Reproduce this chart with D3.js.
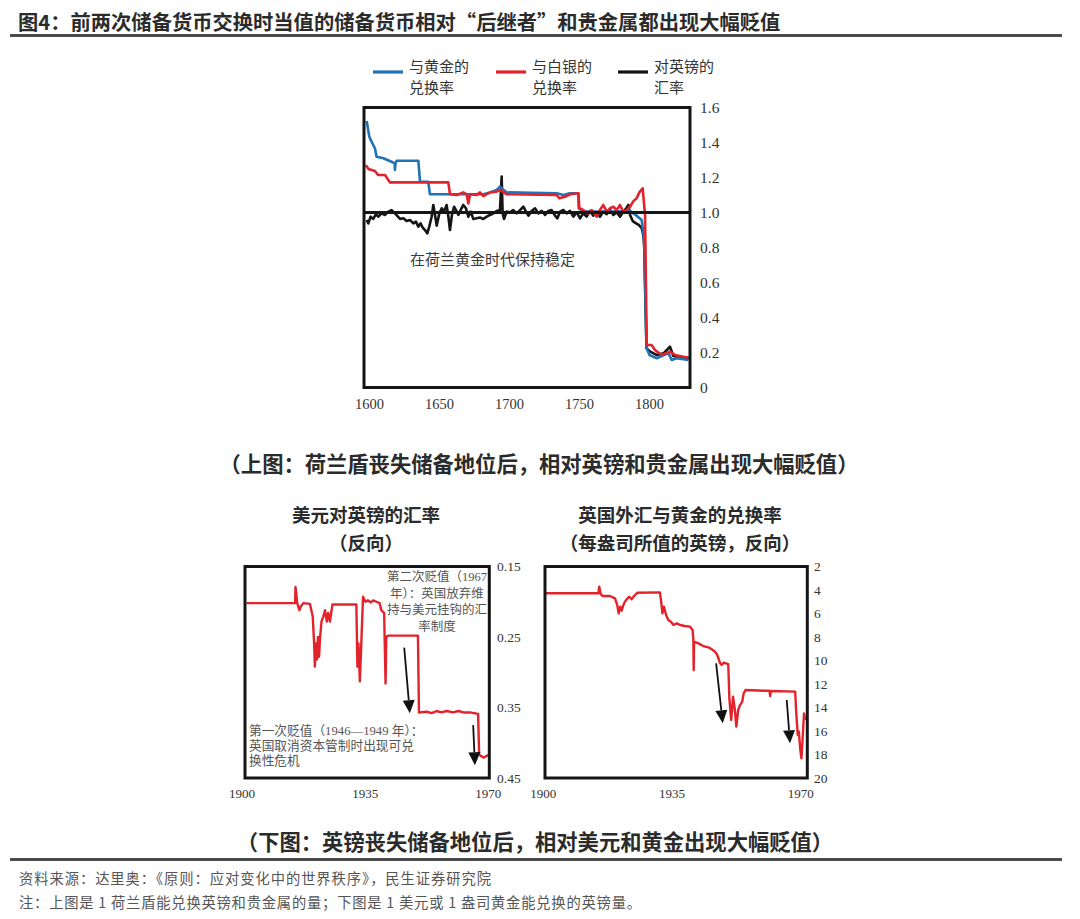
<!DOCTYPE html>
<html><head><meta charset="utf-8">
<script src="https://cdn.jsdelivr.net/npm/d3@7/dist/d3.min.js"></script>
<style>
body{margin:0;background:#fff;}
svg{display:block;}
.cjk{font-family:"Noto Sans CJK SC","Noto Sans",sans-serif;}
.ser{font-family:"Liberation Serif","Noto Sans CJK SC",serif;}
</style></head>
<body>
<svg id="c" width="1080" height="919"></svg>
<script>
// ---------- DATA ----------
const topLegend = [["与黄金的","兑换率"],["与白银的","兑换率"],["对英镑的","汇率"]];
const topYTicks = [0,0.2,0.4,0.6,0.8,1.0,1.2,1.4,1.6];
const topXTicks = [1600,1650,1700,1750,1800];
// guilder -> gold exchange rate
const guilderGold = [[1598.0,1.523],[1599.9,1.433],[1601.5,1.405],[1603.9,1.367],[1605.1,1.319],[1609.9,1.310],[1615.8,1.290],[1618.0,1.281],[1618.2,1.243],[1618.6,1.281],[1619.4,1.296],[1634.9,1.296],[1636.1,1.176],[1642.0,1.176],[1643.2,1.104],[1681.3,1.104],[1686.1,1.115],[1690.8,1.129],[1693.2,1.148],[1695.6,1.129],[1698.0,1.115],[1733.7,1.110],[1738.5,1.100],[1743.2,1.110],[1749.2,1.110],[1749.4,1.024],[1752.7,1.005],[1771.8,1.005],[1786.1,1.009],[1788.5,0.995],[1790.8,0.982],[1794.4,0.957],[1796.1,0.852],[1797.9,0.224],[1800.0,0.186],[1805.1,0.167],[1810.3,0.186],[1813.6,0.195],[1815.8,0.157],[1819.4,0.167],[1827.7,0.157]];
// guilder -> silver exchange rate
const guilderSilver = [[1597.5,1.271],[1599.2,1.249],[1603.9,1.237],[1606.3,1.214],[1611.1,1.214],[1614.6,1.172],[1656.3,1.172],[1657.5,1.104],[1662.3,1.100],[1667.0,1.115],[1669.4,1.104],[1670.6,1.052],[1671.8,1.104],[1676.5,1.100],[1678.9,1.115],[1681.3,1.094],[1686.1,1.115],[1690.8,1.119],[1693.2,1.129],[1698.0,1.104],[1733.7,1.100],[1735.6,1.081],[1739.6,1.090],[1743.2,1.104],[1749.2,1.110],[1749.9,1.024],[1752.7,1.014],[1756.3,0.995],[1758.7,1.014],[1762.3,0.976],[1764.6,1.014],[1767.0,1.043],[1769.4,1.005],[1771.8,1.024],[1774.2,1.033],[1776.5,1.014],[1778.9,1.043],[1781.3,1.001],[1783.7,1.014],[1786.1,1.033],[1788.5,1.065],[1790.8,1.081],[1792.7,1.115],[1795.1,1.138],[1796.8,0.986],[1798.0,0.243],[1801.5,0.243],[1803.9,0.214],[1808.7,0.186],[1814.6,0.205],[1818.2,0.186],[1824.2,0.176],[1827.7,0.171]];
// guilder -> pound exchange rate
const guilderPound = [[1598.0,0.957],[1599.2,0.938],[1600.8,0.976],[1602.7,0.963],[1604.6,0.990],[1606.3,0.976],[1608.7,0.995],[1611.1,0.986],[1613.5,1.005],[1615.8,1.014],[1618.2,0.995],[1621.8,0.963],[1624.2,0.967],[1626.5,0.951],[1628.9,0.957],[1631.3,0.938],[1633.2,0.948],[1634.9,0.919],[1636.5,0.938],[1638.0,0.914],[1639.6,0.900],[1641.3,0.881],[1642.7,0.919],[1644.4,0.976],[1645.6,1.043],[1646.8,0.986],[1648.0,0.925],[1649.9,0.995],[1651.6,1.024],[1653.2,1.005],[1655.1,1.043],[1656.5,0.967],[1657.5,0.900],[1658.9,0.986],[1660.4,1.033],[1661.8,1.014],[1663.5,0.986],[1665.1,1.014],[1667.0,1.043],[1668.9,1.024],[1670.6,0.976],[1672.3,1.005],[1674.2,0.963],[1676.5,0.967],[1678.9,0.971],[1681.3,0.963],[1683.7,0.976],[1686.1,0.986],[1688.5,0.995],[1690.8,1.009],[1693.2,1.014],[1694.4,1.205],[1695.1,0.995],[1696.1,0.963],[1698.0,1.005],[1700.4,1.001],[1702.7,1.014],[1705.1,0.995],[1707.5,1.014],[1709.9,1.033],[1711.8,1.005],[1713.5,0.982],[1715.8,1.009],[1718.2,1.024],[1720.6,0.995],[1723.0,1.009],[1725.4,0.986],[1727.7,1.009],[1730.1,1.014],[1732.5,0.982],[1734.2,0.967],[1736.1,1.005],[1738.5,1.014],[1740.8,0.995],[1743.2,1.009],[1745.6,0.976],[1748.0,1.001],[1750.4,0.967],[1752.7,0.995],[1755.1,0.976],[1757.5,1.009],[1759.9,0.982],[1762.3,1.001],[1764.6,0.976],[1767.0,1.005],[1769.4,0.990],[1771.8,1.014],[1774.2,0.986],[1776.5,1.001],[1778.9,0.976],[1781.3,1.005],[1783.7,1.027],[1784.9,1.043],[1786.1,0.986],[1788.0,0.951],[1790.4,0.938],[1792.3,0.929],[1794.4,0.910],[1795.6,0.871],[1796.2,0.805],[1797.8,0.224],[1800.5,0.205],[1805.0,0.186],[1810.0,0.195],[1814.6,0.233],[1817.0,0.180],[1822.0,0.172],[1828.0,0.168]];

const usdYTicks = [0.15,0.25,0.35,0.45];
const botXTicks = [1900,1935,1970];
// pounds per dollar (inverted axis)
const usdGbp = [[1901.3,0.202],[1915.1,0.202],[1915.2,0.179],[1915.7,0.202],[1916.3,0.212],[1916.7,0.207],[1917.4,0.202],[1919.3,0.203],[1920.1,0.221],[1920.5,0.259],[1920.7,0.292],[1921.0,0.259],[1921.3,0.282],[1921.6,0.250],[1921.9,0.278],[1922.2,0.250],[1922.6,0.228],[1923.1,0.221],[1923.6,0.212],[1924.1,0.228],[1924.5,0.216],[1925.0,0.228],[1925.7,0.204],[1932.5,0.204],[1932.8,0.292],[1933.1,0.259],[1933.5,0.313],[1933.8,0.273],[1934.4,0.193],[1935.1,0.200],[1935.8,0.198],[1936.6,0.201],[1937.3,0.198],[1938.2,0.200],[1939.1,0.202],[1939.6,0.212],[1940.4,0.216],[1940.8,0.316],[1941.0,0.250],[1941.5,0.248],[1950.0,0.248],[1950.3,0.357],[1952.5,0.356],[1953.9,0.358],[1955.3,0.355],[1956.7,0.357],[1958.1,0.355],[1960.0,0.357],[1961.5,0.355],[1962.9,0.357],[1964.8,0.357],[1967.1,0.359],[1967.4,0.417],[1968.6,0.421],[1970.2,0.417]];

const goldYTicks = [2,4,6,8,10,12,14,16,18,20];
// pounds per ounce of gold (inverted axis)
const gbpGold = [[1900.7,4.28],[1915.0,4.28],[1915.2,3.72],[1915.6,4.33],[1916.1,4.51],[1918.1,4.51],[1919.5,4.71],[1920.1,5.27],[1920.5,5.99],[1920.9,5.42],[1921.3,5.76],[1921.8,5.27],[1922.2,4.99],[1922.9,4.71],[1923.4,4.57],[1924.0,4.79],[1924.7,4.51],[1925.6,4.23],[1931.7,4.2],[1932.0,4.85],[1932.4,5.99],[1932.8,5.42],[1933.4,6.13],[1934.0,6.55],[1934.7,6.70],[1935.4,6.98],[1936.3,6.84],[1937.2,6.98],[1938.5,7.06],[1939.9,7.12],[1940.6,7.40],[1940.8,8.11],[1940.9,10.81],[1941.0,8.40],[1942.2,8.54],[1943.5,8.77],[1944.9,8.88],[1945.8,9.05],[1946.7,9.25],[1947.3,9.53],[1948.1,10.24],[1948.5,10.38],[1949.1,10.18],[1950.3,10.30],[1950.6,13.22],[1951.1,15.06],[1951.6,13.08],[1952.1,14.21],[1952.5,15.63],[1953.0,14.21],[1953.5,13.79],[1954.1,13.50],[1954.5,12.79],[1955.0,12.51],[1959.9,12.57],[1961.5,12.57],[1961.7,13.02],[1961.9,12.60],[1968.5,12.65],[1968.8,14.50],[1969.2,16.34],[1969.5,16.06],[1969.9,17.62],[1970.2,18.33],[1970.5,16.77],[1970.9,14.50],[1971.2,15.06]];

// ---------- DRAW ----------
const svg = d3.select("#c");
const RED = "#e3232b", BLUE = "#2272b6", BLK = "#151515";

// Title
svg.append("text").attr("class","cjk").attr("x",18).attr("y",30)
  .attr("font-size",20.3).attr("font-weight",700).attr("fill","#2b2b2b")
  .text("图4：前两次储备货币交换时当值的储备货币相对“后继者”和贵金属都出现大幅贬值");
svg.append("rect").attr("x",10).attr("y",34).attr("width",1052).attr("height",3).attr("fill","#4a4a4a");

// ---- Top chart ----
const tx = d3.scaleLinear().domain([1596.1,1828.9]).range([364,690]);
const ty = d3.scaleLinear().domain([0,1.6]).range([387.5,107.5]);
const tl = d3.line().x(d=>tx(d[0])).y(d=>ty(d[1]));

const legCols = [BLUE, RED, BLK];
const legX = [373,496,618];
topLegend.forEach((t,i)=>{
  svg.append("line").attr("x1",legX[i]).attr("x2",legX[i]+30).attr("y1",72).attr("y2",72)
    .attr("stroke",legCols[i]).attr("stroke-width",3.2);
  svg.append("text").attr("class","ser").attr("x",legX[i]+36).attr("y",72)
    .attr("font-size",15).attr("fill","#333").text(t[0]);
  svg.append("text").attr("class","ser").attr("x",legX[i]+36).attr("y",93)
    .attr("font-size",15).attr("fill","#333").text(t[1]);
});

svg.append("path").datum(guilderPound).attr("d",tl).attr("fill","none").attr("stroke",BLK).attr("stroke-width",2.6).attr("stroke-linejoin","round");
svg.append("path").datum(guilderGold).attr("d",tl).attr("fill","none").attr("stroke",BLUE).attr("stroke-width",2.6).attr("stroke-linejoin","round");
svg.append("path").datum(guilderSilver).attr("d",tl).attr("fill","none").attr("stroke",RED).attr("stroke-width",2.6).attr("stroke-linejoin","round");
// reference line at 1.0
svg.append("line").attr("x1",364).attr("x2",690).attr("y1",ty(1)).attr("y2",ty(1)).attr("stroke",BLK).attr("stroke-width",3);
svg.append("rect").attr("x",364).attr("y",107.5).attr("width",326).attr("height",280)
  .attr("fill","none").attr("stroke",BLK).attr("stroke-width",3);

topYTicks.forEach(v=>{
  svg.append("text").attr("class","ser").attr("x",700).attr("y",ty(v)+5).attr("font-size",15.5)
    .attr("fill","#333").text(v===0?"0":v.toFixed(1));
});
topXTicks.forEach(v=>{
  svg.append("text").attr("class","ser").attr("x",tx(v)).attr("y",409).attr("text-anchor","middle")
    .attr("font-size",14.5).attr("fill","#333").text(v);
});
svg.append("text").attr("class","ser").attr("x",tx(1629)).attr("y",ty(0.729)+5)
  .attr("font-size",15).attr("fill","#3a3a3a").text("在荷兰黄金时代保持稳定");

svg.append("text").attr("class","cjk").attr("x",539).attr("y",472).attr("text-anchor","middle")
  .attr("font-size",21.3).attr("font-weight",700).attr("fill","#2b2b2b")
  .text("（上图：荷兰盾丧失储备地位后，相对英镑和贵金属出现大幅贬值）");

// ---- Bottom charts ----
function arrow(g, x1,y1,x2,y2){
  const ang = Math.atan2(y2-y1,x2-x1);
  const L=13, W=6;
  const bx = x2 - L*Math.cos(ang), by = y2 - L*Math.sin(ang);
  g.append("line").attr("x1",x1).attr("y1",y1).attr("x2",bx).attr("y2",by).attr("stroke","#111").attr("stroke-width",1.8);
  const px = -Math.sin(ang)*W, py = Math.cos(ang)*W;
  g.append("path").attr("d",`M${x2},${y2}L${bx+px},${by+py}L${bx-px},${by-py}Z`).attr("fill","#111");
}

// Left: USD vs GBP
const lx = d3.scaleLinear().domain([1900,1970]).range([242,488.3]);
const ly = d3.scaleLinear().domain([0.15,0.45]).range([566.5,778]);
svg.append("text").attr("class","cjk").attr("x",366).attr("y",522).attr("text-anchor","middle")
  .attr("font-size",18.5).attr("font-weight",700).attr("fill","#2b2b2b").text("美元对英镑的汇率");
svg.append("text").attr("class","cjk").attr("x",366).attr("y",550).attr("text-anchor","middle")
  .attr("font-size",18.5).attr("font-weight",700).attr("fill","#2b2b2b").text("（反向）");
svg.append("path").datum(usdGbp).attr("d",d3.line().x(d=>lx(d[0])).y(d=>ly(d[1])))
  .attr("fill","none").attr("stroke",RED).attr("stroke-width",2.4).attr("stroke-linejoin","round");
svg.append("rect").attr("x",245).attr("y",566.5).attr("width",244.3).attr("height",211.5)
  .attr("fill","none").attr("stroke",BLK).attr("stroke-width",3);
usdYTicks.forEach(v=>{
  svg.append("text").attr("class","ser").attr("x",497).attr("y",ly(v)+4.5).attr("font-size",13.5)
    .attr("fill","#333").text(v.toFixed(2));
});
botXTicks.forEach(v=>{
  svg.append("text").attr("class","ser").attr("x",lx(v)).attr("y",798).attr("text-anchor","middle")
    .attr("font-size",13).attr("fill","#333").text(v);
});
const annL1 = ["第二次贬值（1967","年）：英国放弃维","持与美元挂钩的汇","率制度"];
annL1.forEach((t,i)=>{
  svg.append("text").attr("class","ser").attr("x",437).attr("y",581+i*16.7).attr("text-anchor","middle")
    .attr("font-size",12.5).attr("fill","#555").text(t);
});
const annL2 = ["第一次贬值（1946—1949 年）：","英国取消资本管制时出现可兑","换性危机"];
annL2.forEach((t,i)=>{
  svg.append("text").attr("class","ser").attr("x",249).attr("y",734.5+i*15.3)
    .attr("font-size",12.7).attr("fill","#555").text(t);
});
arrow(svg, lx(1946.1), ly(0.265), lx(1947.7), ly(0.358));
arrow(svg, lx(1965.7), ly(0.375), lx(1966.2), ly(0.432));

// Right: GBP vs gold
const rx = d3.scaleLinear().domain([1900,1970]).range([543.3,800.7]);
const ry = d3.scaleLinear().domain([2,20]).range([566.5,778]);
svg.append("text").attr("class","cjk").attr("x",680).attr("y",522).attr("text-anchor","middle")
  .attr("font-size",18.5).attr("font-weight",700).attr("fill","#2b2b2b").text("英国外汇与黄金的兑换率");
svg.append("text").attr("class","cjk").attr("x",680).attr("y",550).attr("text-anchor","middle")
  .attr("font-size",18.5).attr("font-weight",700).attr("fill","#2b2b2b").text("（每盎司所值的英镑，反向）");
svg.append("path").datum(gbpGold).attr("d",d3.line().x(d=>rx(d[0])).y(d=>ry(d[1])))
  .attr("fill","none").attr("stroke",RED).attr("stroke-width",2.4).attr("stroke-linejoin","round");
svg.append("rect").attr("x",545).attr("y",566.5).attr("width",262.3).attr("height",211.5)
  .attr("fill","none").attr("stroke",BLK).attr("stroke-width",3);
goldYTicks.forEach(v=>{
  svg.append("text").attr("class","ser").attr("x",814).attr("y",ry(v)+4.5).attr("font-size",13.5)
    .attr("fill","#333").text(v);
});
botXTicks.forEach(v=>{
  svg.append("text").attr("class","ser").attr("x",rx(v)).attr("y",798).attr("text-anchor","middle")
    .attr("font-size",13).attr("fill","#333").text(v);
});
arrow(svg, rx(1947.0), ry(10.24), rx(1948.8), ry(15.34));
arrow(svg, rx(1966.2), ry(13.36), rx(1967.1), ry(17.05));

svg.append("text").attr("class","cjk").attr("x",535).attr("y",850).attr("text-anchor","middle")
  .attr("font-size",21.3).attr("font-weight",700).attr("fill","#2b2b2b")
  .text("（下图：英镑丧失储备地位后，相对美元和黄金出现大幅贬值）");
svg.append("rect").attr("x",10).attr("y",858).attr("width",1052).attr("height",3).attr("fill","#4a4a4a");

svg.append("text").attr("class","cjk").attr("x",19).attr("y",884).attr("font-size",14.3).attr("fill","#555")
  .attr("textLength",472).attr("lengthAdjust","spacing")
  .text("资料来源：达里奥：《原则：应对变化中的世界秩序》，民生证券研究院");
svg.append("text").attr("class","cjk").attr("x",19).attr("y",908).attr("font-size",14.3).attr("fill","#555")
  .attr("textLength",622).attr("lengthAdjust","spacing")
  .text("注：上图是 1 荷兰盾能兑换英镑和贵金属的量；下图是 1 美元或 1 盎司黄金能兑换的英镑量。");
</script>
</body></html>
